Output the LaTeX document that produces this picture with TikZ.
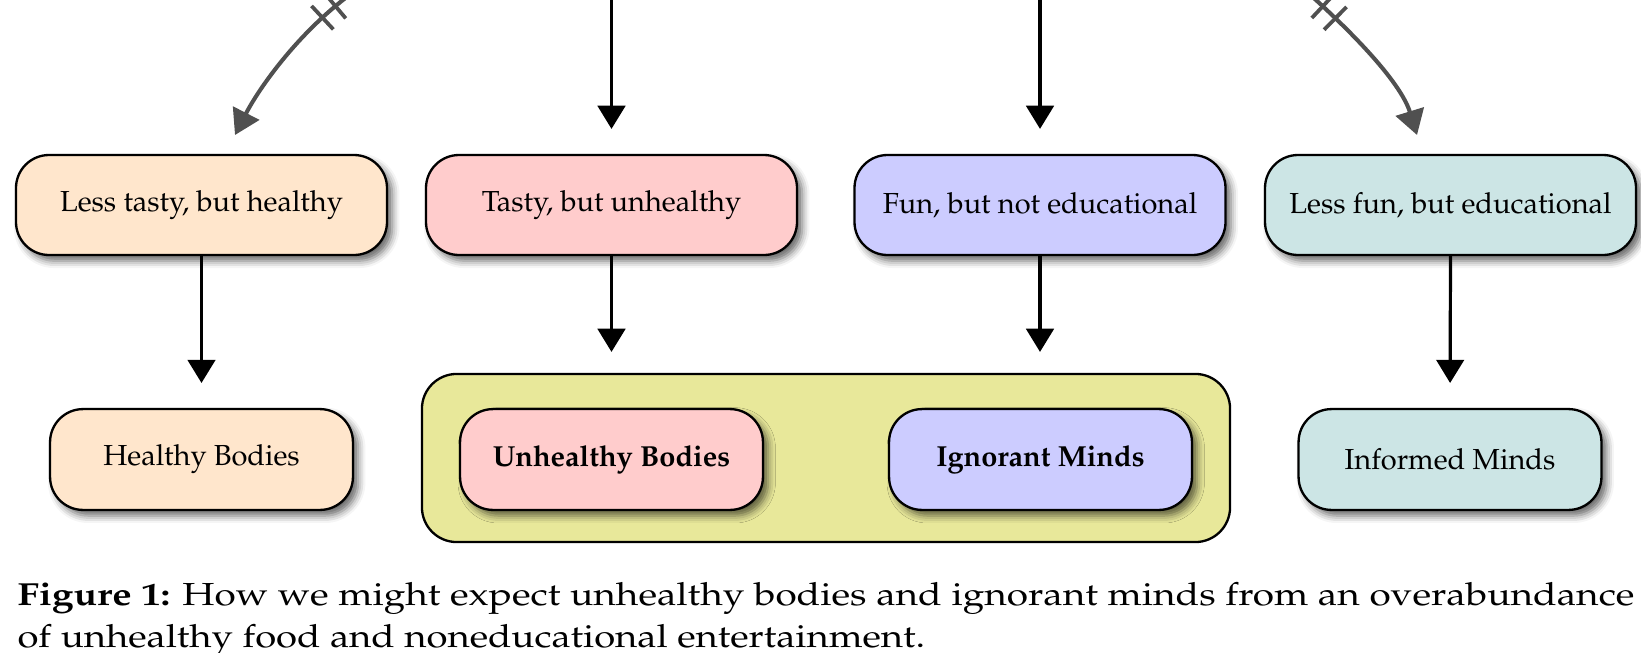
\documentclass[tikz,border=0pt]{standalone}
\IfFileExists{mathpazo.sty}{\usepackage[T1]{fontenc}\usepackage{mathpazo}}{%
  \IfFileExists{palatino.sty}{\usepackage[T1]{fontenc}\usepackage{palatino}}{%
    \usepackage{fontspec}\setmainfont{Liberation Serif}}}
\usetikzlibrary{arrows.meta,shadows,decorations.markings}
\IfFileExists{tikzlibraryshadows.blur.code.tex}{%
  \usetikzlibrary{shadows.blur}
  \tikzset{shad/.style={blur shadow={shadow xshift=1.8pt, shadow yshift=-2pt, shadow blur radius=2.5pt, shadow opacity=60}}}}{%
  \tikzset{shad/.style={drop shadow={shadow xshift=1.8pt, shadow yshift=-2pt, opacity=0.4, fill=black!60}}}}
\definecolor{cpeach}{HTML}{FFE6CC}
\definecolor{cpink}{HTML}{FFCCCC}
\definecolor{clav}{HTML}{CCCCFF}
\definecolor{cteal}{HTML}{CCE5E5}
\definecolor{cyel}{HTML}{E8E89A}
\definecolor{cgrey}{HTML}{505050}
\begin{document}
\begin{tikzpicture}[x=0.345pt,y=-0.345pt,
  box/.style={draw=black, line width=0.8pt, rounded corners=11.4pt, inner sep=0pt,
    font=\fontsize{10}{12}\selectfont, shad},
  topbox/.style={box, minimum width=128pt, minimum height=34.5pt},
  botbox/.style={box, minimum width=104.5pt, minimum height=34.8pt},
  arr/.style={draw=black, line width=1.1pt, -{Triangle[length=8pt,width=9.5pt]}},
  garr/.style={draw=cgrey, line width=1.4pt, -{Triangle[length=8.5pt,width=10pt]}},
  ticks/.style={decorate, decoration={markings,
      mark=at position 11.5pt with {\draw[cgrey, line width=1.3pt] (0,-16) -- (0,16);},
      mark=at position 17.5pt with {\draw[cgrey, line width=1.3pt] (0,-16) -- (0,16);}}},
  capfont/.style={font=\fontsize{11}{13}\selectfont}
]
\useasboundingbox (0,0) rectangle (1641,652);

% yellow group box
\node[draw=black, line width=0.8pt, fill=cyel, rounded corners=12pt, minimum width=278.8pt, minimum height=58pt] (grp) at (826,458) {};

% top row
\node[topbox, fill=cpeach] (n1) at (201.5,205) {Less tasty, but healthy};
\node[topbox, fill=cpink] (n2) at (611.5,205) {Tasty, but unhealthy};
\node[topbox, fill=clav] (n3) at (1040,205) {Fun, but not educational};
\node[topbox, fill=cteal] (n4) at (1450.5,205) {Less fun, but educational};

% bottom row
\node[botbox, fill=cpeach] (hb) at (201.5,459.5) {Healthy Bodies};
\node[botbox, fill=cpink] (ub) at (611.5,459.5) {\textbf{Unhealthy Bodies}};
\node[botbox, fill=clav] (im) at (1040.5,459.5) {\textbf{Ignorant Minds}};
\node[botbox, fill=cteal] (inf) at (1450,459.5) {Informed Minds};

% incoming arrows from above
\coordinate (a2) at (611.5,-30);
\coordinate (a3) at (1040,-30);
\draw[arr, shorten >=8.6pt] (a2) -- (n2.north);
\draw[arr, shorten >=8.6pt] (a3) -- (n3.north);

% curved crossed arrows
\coordinate (c1s) at (362,-14);
\coordinate (c1e) at (235,135);
\draw[garr] (c1s) .. controls (300,28) and (258,90) .. (c1e);
\path[ticks] (c1s) .. controls (300,28) and (258,90) .. (c1e);
\coordinate (c2s) at (1298,-16);
\coordinate (c2e) at (1417,135);
\draw[garr] (c2s) .. controls (1345,25) and (1400,80) .. (c2e);
\path[ticks] (c2s) .. controls (1345,25) and (1400,80) .. (c2e);

% outgoing arrows
\draw[arr, shorten >=8.6pt] (n1.south) -- (hb.north);
\draw[arr, shorten >=7.2pt] (n2.south) -- (n2.south |- grp.north);
\draw[arr, shorten >=7.2pt] (n3.south) -- (n3.south |- grp.north);
\draw[arr, shorten >=8.6pt] (n4.south) -- (inf.north);

% caption
\node[anchor=base west, inner sep=0pt, capfont] (cap1) at (17,605)
  {\scalebox{1.215}[1]{\textbf{Figure 1:} How we might expect unhealthy bodies and ignorant minds from an overabundance}};
\node[anchor=base west, inner sep=0pt, capfont] (cap2) at (17,647)
  {\scalebox{1.2}[1]{of unhealthy food and noneducational entertainment.}};
\end{tikzpicture}
\end{document}
